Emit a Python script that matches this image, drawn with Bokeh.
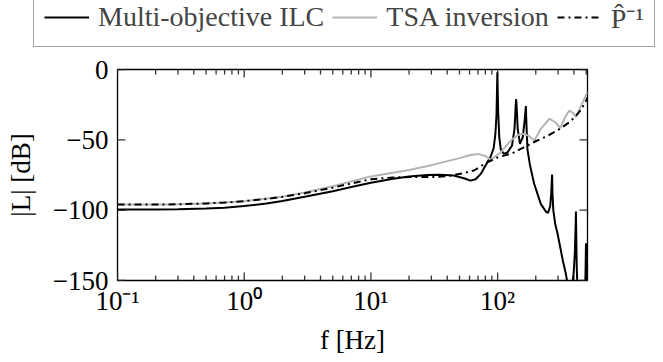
import math
from bokeh.plotting import figure
from bokeh.models import (Legend, LegendItem, FixedTicker, CustomJSTickFormatter, Range1d)
from bokeh.embed import file_html
from bokeh.resources import INLINE

# ---------------- data ----------------
f_ilc = [0.1, 0.2, 0.3, 0.5, 0.7, 1.0, 1.5, 2, 3, 5, 7, 10, 15, 20, 28, 35, 45, 55, 61, 67,
         74, 83, 88, 93, 96, 98, 99.5, 101, 103, 106, 112, 120, 130, 136, 139, 140, 141, 144,
         150, 158, 164, 167, 169, 172, 180, 194, 219, 240, 250, 260, 265, 269, 271, 275, 285,
         297, 327, 345, 356, 370, 385, 398, 407, 413, 415, 417, 421, 428, 460, 490, 495, 498,
         501, 506, 512]
L_ilc = [-99.5, -99.5, -99.3, -98.8, -98.2, -97.0, -95.3, -93.5, -90.5, -86.5, -83.5, -80.5,
         -77.7, -76.0, -75.0, -74.8, -75.4, -77.5, -79.0, -78.0, -74.0, -66.0, -62.0, -56.0,
         -46.0, -32.0, -2.0, -30.0, -48.0, -57.0, -60.0, -58.8, -54.0, -42.0, -25.0, -21.0,
         -25.0, -42.0, -52.9, -48.0, -35.0, -26.0, -40.0, -57.0, -68.0, -81.0, -95.5, -101.0,
         -102.0, -97.0, -88.0, -74.6, -88.0, -100.0, -110.0, -116.6, -135.8, -145.0, -152.0,
         -158.0, -155.0, -145.0, -130.0, -110.0, -101.0, -115.0, -140.0, -160.0, -175.0,
         -160.0, -140.0, -123.5, -140.0, -165.0, -175.0]

f_tsa = [0.1, 0.2, 0.3, 0.5, 0.7, 1.0, 2, 3, 5, 10, 20, 30, 50, 60, 70, 80, 88, 95, 106,
         127, 145, 157, 175, 195, 220, 256, 285, 312, 340, 368, 395, 415, 460, 512]
L_tsa = [-96.0, -96.0, -95.8, -95.3, -94.6, -93.6, -90.5, -87.5, -83.0, -76.0, -71.5, -68.0,
         -63.0, -61.0, -60.0, -61.5, -64.2, -62.0, -58.8, -50.5, -46.5, -45.7, -47.0, -50.5,
         -42.0, -35.0, -37.5, -41.7, -34.0, -29.2, -31.0, -33.9, -25.0, -16.0]

f_pinv = [0.1, 0.2, 0.3, 0.5, 0.7, 1.0, 1.5, 2, 3, 5, 7, 10, 15, 20, 30, 40, 52, 65, 83,
          100, 131, 162, 200, 250, 312, 368, 415, 460, 500, 512]
L_pinv = [-96.0, -96.0, -95.8, -95.2, -94.6, -93.6, -92.0, -90.5, -88.0, -84.0, -81.0, -78.0,
          -76.7, -76.5, -76.5, -75.8, -74.0, -71.8, -66.0, -62.5, -59.5, -55.2, -51.0, -47.0,
          -42.0, -37.5, -33.0, -28.0, -22.0, -20.0]

series_labels = ["Multi-objective ILC", "TSA inversion", "P\u0302\u207b\u00b9"]
x_tick_vals = [0.1, 1, 10, 100]
x_tick_labels = ["10\u207b\u00b9", "10\u2070", "10\u00b9", "10\u00b2"]
x_minor_vals = [0.2, 0.3, 0.4, 0.5, 0.6, 0.7, 0.8, 0.9, 2, 3, 4, 5, 6, 7, 8, 9,
                20, 30, 40, 50, 60, 70, 80, 90, 200, 300, 400, 500]
y_tick_vals = [-150, -100, -50, 0]
x_min, x_max = 0.1, 512
y_min, y_max = -150, 0

FONT = "Liberation Serif"
TICK_COLOR = "#333333"
TICK_W = 1.3
styles = [dict(line_color="black", line_width=2),
          dict(line_color="#b4b4b4", line_width=2),
          dict(line_color="black", line_width=2, line_dash="7 4 2 4")]

# layout of the main plot (pixels)
W, H = 663, 312
BL, BR, BT, BB = 117, 76, 19, 82
FW, FH = W - BL - BR, H - BT - BB
MAJ, MIN = 8, 5   # tick lengths in px

# ---------------- main plot ----------------
p = figure(width=W, height=H, x_axis_type="log", output_backend="svg",
           toolbar_location=None, x_range=Range1d(x_min, x_max), y_range=Range1d(y_min, y_max),
           min_border_left=BL, min_border_right=BR, min_border_top=BT, min_border_bottom=BB)
p.background_fill_color = None
p.border_fill_color = None
p.outline_line_color = "black"
p.outline_line_width = 1.3
p.grid.visible = False

xfmt = CustomJSTickFormatter(args=dict(vals=x_tick_vals, labs=x_tick_labels), code="""
let best = 0, bd = 1e9;
for (let i = 0; i < vals.length; i++) {
  const d = Math.abs(Math.log10(tick) - Math.log10(vals[i]));
  if (d < bd) { bd = d; best = i; }
}
return labs[best];
""")
yfmt = CustomJSTickFormatter(code="return tick < 0 ? '\u2212' + Math.abs(tick) : String(tick);")

def style_axis(ax):
    ax.axis_line_color = None
    ax.major_tick_in = 0
    ax.major_tick_out = 0
    ax.minor_tick_in = 0
    ax.minor_tick_out = 0
    ax.major_tick_line_color = None
    ax.minor_tick_line_color = None
    ax.major_label_text_font = FONT
    ax.major_label_text_font_size = "27px"
    ax.major_label_text_color = "black"
    ax.axis_label_text_font = FONT
    ax.axis_label_text_font_size = "27px"
    ax.axis_label_text_font_style = "normal"
    ax.axis_label_text_color = "black"

xa = p.xaxis[0]
xa.ticker = FixedTicker(ticks=x_tick_vals, minor_ticks=x_minor_vals)
xa.formatter = xfmt
style_axis(xa)
xa.major_label_standoff = 5
xa.axis_label = "f [Hz]"
xa.axis_label_standoff = 6

ya = p.yaxis[0]
ya.ticker = FixedTicker(ticks=y_tick_vals)
ya.formatter = yfmt
style_axis(ya)
ya.major_label_standoff = 9
ya.axis_label = "|L| [dB]"
ya.axis_label_standoff = 14

# inward tick marks on all four sides (pgfplots style), each drawn as a short line
dy_maj = MAJ * (y_max - y_min) / FH
dy_min = MIN * (y_max - y_min) / FH
fx = 10 ** (MAJ * math.log10(x_max / x_min) / FW)

for xv in x_tick_vals:
    p.line([xv, xv], [y_min, y_min + dy_maj], line_color=TICK_COLOR, line_width=TICK_W)
    p.line([xv, xv], [y_max, y_max - dy_maj], line_color=TICK_COLOR, line_width=TICK_W)
for xv in x_minor_vals:
    p.line([xv, xv], [y_min, y_min + dy_min], line_color=TICK_COLOR, line_width=TICK_W)
    p.line([xv, xv], [y_max, y_max - dy_min], line_color=TICK_COLOR, line_width=TICK_W)
for yv in y_tick_vals:
    p.line([x_min, x_min * fx], [yv, yv], line_color=TICK_COLOR, line_width=TICK_W)
    p.line([x_max, x_max / fx], [yv, yv], line_color=TICK_COLOR, line_width=TICK_W)

p.line(f_ilc, L_ilc, **styles[0])
p.line(f_tsa, L_tsa, **styles[1])
p.line(f_pinv, L_pinv, **styles[2])

# ---------------- legend strip (separate root, not frame-aligned) ----------------
lg = figure(width=W, height=50, output_backend="svg", toolbar_location=None,
            x_axis_location=None, y_axis_location=None,
            x_range=Range1d(0, 1), y_range=Range1d(0, 1),
            min_border_left=0, min_border_right=0, min_border_top=0, min_border_bottom=0)
lg.outline_line_color = None
lg.background_fill_color = None
lg.border_fill_color = None
lg.grid.visible = False
lr = [lg.line([5], [5], **s) for s in styles]

legend = Legend(items=[LegendItem(label=series_labels[i], renderers=[lr[i]]) for i in range(3)],
                orientation="horizontal", location=(33, 3),
                border_line_color="#444444", border_line_width=1.3,
                background_fill_color="white", background_fill_alpha=1,
                label_text_font=FONT, label_text_font_size="28px",
                glyph_width=45, glyph_height=26,
                label_standoff=9, spacing=8, padding=10, margin=0)
lg.add_layout(legend)

open("out.html", "w").write(file_html([lg, p], INLINE))
